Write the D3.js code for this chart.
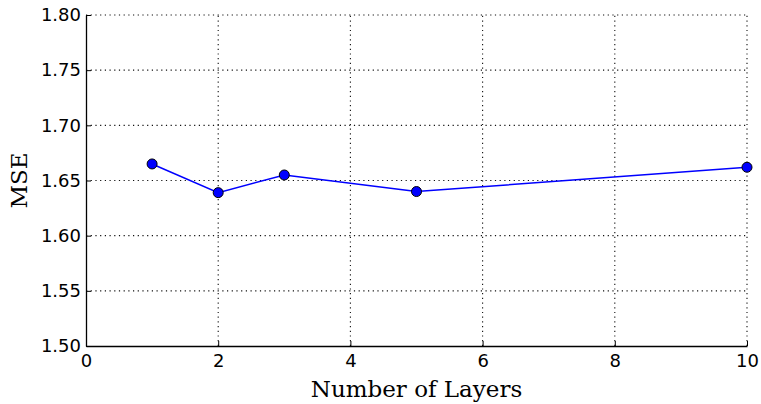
<html>
<head>
<meta charset="utf-8">
<script src="https://d3js.org/d3.v7.min.js"></script>
<style>
  body { margin: 0; background: #fff; }
  text { font-family: "DejaVu Sans", sans-serif; }
</style>
</head>
<body>
<div id="output"></div>
<script>
// data
var layers = [1, 2, 3, 5, 10];
var mse = [1.665, 1.639, 1.655, 1.640, 1.662];
var xTicks = [0, 2, 4, 6, 8, 10];
var yTicks = [1.50, 1.55, 1.60, 1.65, 1.70, 1.75, 1.80];

var width = 761, height = 404;
var plotLeft = 86, plotRight = 747, plotTop = 15, plotBottom = 346;

var svg = d3.select("#output").append("svg")
  .attr("width", width)
  .attr("height", height);

var x = d3.scaleLinear().domain([0, 10]).range([plotLeft, plotRight]);
var y = d3.scaleLinear().domain([1.5, 1.8]).range([plotBottom, plotTop]);

// grid
svg.append("g").selectAll("line")
  .data(xTicks.slice(1))
  .enter().append("line")
  .attr("x1", function(d){ return x(d); })
  .attr("x2", function(d){ return x(d); })
  .attr("y1", plotBottom).attr("y2", plotTop)
  .style("stroke", "#111").style("stroke-width", 1.1)
  .style("stroke-dasharray", "1.2,3.5");
svg.append("g").selectAll("line")
  .data(yTicks.slice(1))
  .enter().append("line")
  .attr("x1", plotLeft).attr("x2", plotRight)
  .attr("y1", function(d){ return y(d); })
  .attr("y2", function(d){ return y(d); })
  .style("stroke", "#111").style("stroke-width", 1.1)
  .style("stroke-dasharray", "1.2,3.5");

// axes (inward ticks)
var xAxis = svg.append("g")
  .attr("transform", "translate(0," + plotBottom + ")")
  .call(d3.axisBottom(x).tickValues(xTicks).tickSizeInner(-5).tickSizeOuter(0).tickPadding(8));
var yAxis = svg.append("g")
  .attr("transform", "translate(" + plotLeft + ",0)")
  .call(d3.axisLeft(y).tickValues(yTicks).tickSizeInner(-5).tickSizeOuter(0).tickPadding(5)
    .tickFormat(d3.format(".2f")));

[xAxis, yAxis].forEach(function(a){
  a.attr("font-size", null).attr("font-family", null);
  a.select(".domain").style("stroke", "#000").style("stroke-width", 1.3);
  a.selectAll(".tick line").style("stroke", "#000").style("stroke-width", 1);
  a.selectAll(".tick text")
    .style("font-family", "DejaVu Sans, sans-serif")
    .style("font-size", "18px")
    .style("fill", "#000");
});

// line
var line = d3.line()
  .x(function(d, i){ return x(layers[i]); })
  .y(function(d){ return y(d); });
svg.append("path")
  .datum(mse)
  .attr("d", line)
  .style("fill", "none")
  .style("stroke", "#0000ff")
  .style("stroke-width", 1.5);

svg.append("g").selectAll("circle")
  .data(mse)
  .enter().append("circle")
  .attr("cx", function(d, i){ return x(layers[i]); })
  .attr("cy", function(d){ return y(d); })
  .attr("r", 5)
  .style("fill", "#0000ff")
  .style("stroke", "#000")
  .style("stroke-width", 1);

// labels
svg.append("text")
  .attr("x", (plotLeft + plotRight) / 2)
  .attr("y", 397)
  .style("font-family", "DejaVu Serif, serif")
  .style("font-size", "23px")
  .style("text-anchor", "middle")
  .text("Number of Layers");

svg.append("text")
  .attr("transform", "translate(27," + ((plotTop + plotBottom) / 2) + ") rotate(-90)")
  .style("font-family", "DejaVu Serif, serif")
  .style("font-size", "23px")
  .style("text-anchor", "middle")
  .text("MSE");
</script>
</body>
</html>
